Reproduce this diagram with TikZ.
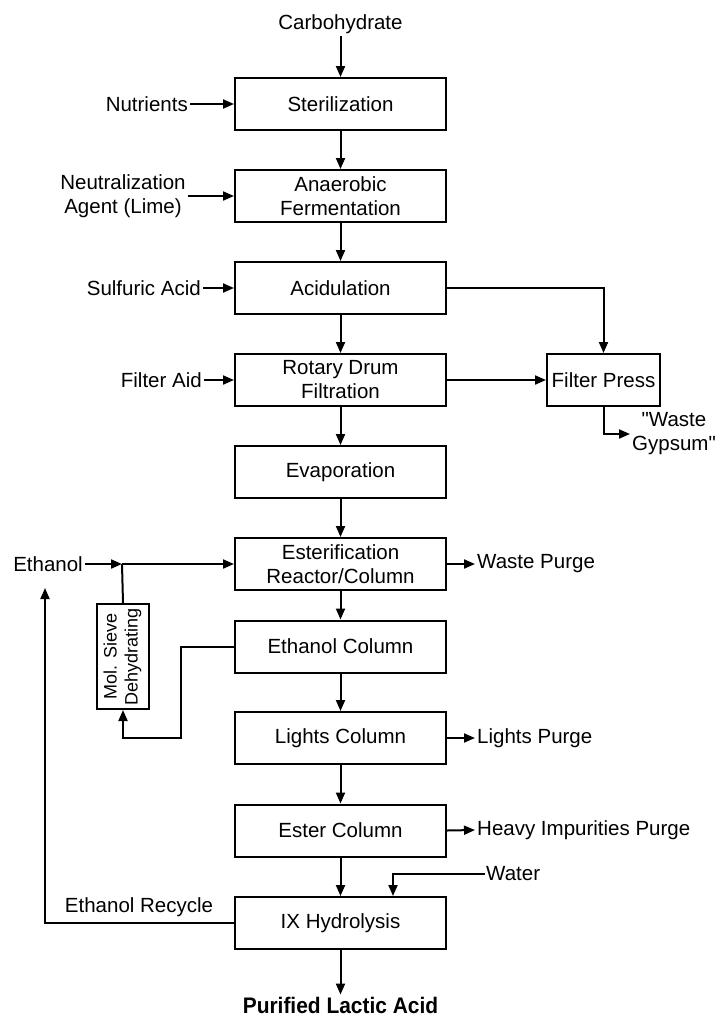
\documentclass[tikz,border=0pt]{standalone}
\usepackage{fontspec}
\setmainfont{Liberation Sans}
% same face without TeX ligatures, for straight double quotes
\newfontfamily\straightq{Liberation Sans}
\usetikzlibrary{arrows.meta}
\begin{document}
\begin{tikzpicture}[x=1pt,y=-1pt,
  every node/.style={font=\fontsize{20.5}{24}\selectfont},
  unit/.style={draw, line width=2pt, minimum width=211pt, minimum height=52pt, inner sep=0pt, align=center},
  lbl/.style={inner sep=2pt, align=center},
  flow/.style={line width=2pt, -{Triangle[length=11pt,width=9pt]}},
  plain/.style={line width=2pt}]
\useasboundingbox (0,0) rectangle (718,1017);

% main process train
\node[unit] (ster)  at (340.5,104) {Sterilization};
\node[unit] (ferm)  at (340.5,196) {Anaerobic\\Fermentation};
\node[unit] (acid)  at (340.5,288) {Acidulation};
\node[unit] (rdf)   at (340.5,380) {Rotary Drum\\Filtration};
\node[unit] (evap)  at (340.5,472) {Evaporation};
\node[unit] (ester) at (340.5,564) {Esterification\\Reactor/Column};
\node[unit] (ethcol) at (340.5,646.5) {Ethanol Column};
\node[unit] (lights) at (340.5,738) {Lights Column};
\node[unit] (estcol) at (340.5,830.5) {Ester Column};
\node[unit] (ix)    at (340.5,923) {IX Hydrolysis};

% side units
\node[unit, minimum width=113pt] (fpress) at (603.5,380) {Filter Press};
\node[draw, line width=2pt, minimum width=52pt, minimum height=105pt, inner sep=0pt] (sieve) at (123,656.5)
  {\rotatebox{90}{\fontsize{18}{21}\selectfont\begin{tabular}{@{}c@{}}Mol. Sieve\\Dehydrating\end{tabular}}};

% feeds and products
\node[lbl] (carb) at (340.5,24) {Carbohydrate};
\node[lbl, anchor=east] (nutr) at (190,104) {Nutrients};
\node[lbl] (neut) at (123,196) {Neutralization\\Agent (Lime)};
\node[lbl, anchor=east] (sulf) at (203,288) {Sulfuric Acid};
\node[lbl, anchor=east] (faid) at (204,380) {Filter Aid};
\node[lbl] (gyp) at (674,434) {{\straightq"}Waste\\Gypsum{\straightq"}};
\node[lbl, anchor=east] (eth) at (85,564) {Ethanol};
\node[lbl, anchor=west] (wpurge) at (475,564) {Waste Purge};
\node[lbl, anchor=west] (lpurge) at (475,738) {Lights Purge};
\node[lbl, anchor=west] (hpurge) at (475,830) {Heavy Impurities Purge};
\node[lbl, anchor=west, inner sep=1pt] (water) at (485,874) {Water};
\node[lbl] (recyc) at (139,907) {Ethanol Recycle};
\node[lbl, font=\fontsize{22.5}{26}\selectfont\bfseries] (prod) at (340.5,1005) {\scalebox{0.93}[1]{Purified Lactic Acid}};

% junction points
\coordinate (j) at (122,564);
\coordinate (bend) at (181,738);
\coordinate (rtip) at (45,588);
\coordinate (wx) at (393,874);

% main flow
\draw[flow] (carb) -- (ster);
\draw[flow] (ster) -- (ferm);
\draw[flow] (ferm) -- (acid);
\draw[flow] (acid) -- (rdf);
\draw[flow] (rdf) -- (evap);
\draw[flow] (evap) -- (ester);
\draw[flow] (ester) -- (ethcol);
\draw[flow] (ethcol) -- (lights);
\draw[flow] (lights) -- (estcol);
\draw[flow] (estcol) -- (ix);
\draw[flow] (ix) -- (prod);

% side feeds
\draw[flow] (nutr.east) -- (ster.west);
\draw[flow] (neut.east) -- (ferm.west);
\draw[flow] (sulf.east) -- (acid.west);
\draw[flow] (faid.east) -- (rdf.west);

% gypsum handling
\draw[flow] (acid.east) -| (fpress.north);
\draw[flow] (rdf.east) -- (fpress.west);
\draw[flow] (fpress.south) |- (gyp.west);

% ethanol loop
\draw[flow] (eth.east) -- (j);
\draw[flow] (j) -- (ester.west);
\draw[plain] (sieve.north) -- (j);
\draw[flow] (ethcol.west) -| (bend) -| (sieve.south);
\draw[flow] (ix.west) -| (rtip);

% purges and water
\draw[flow] (ester.east) -- (wpurge.west);
\draw[flow] (lights.east) -- (lpurge.west);
\draw[flow] (estcol.east) -- (hpurge.west);
\draw[flow] (water.west) -- (wx) -- (wx |- ix.north);
\end{tikzpicture}
\end{document}
